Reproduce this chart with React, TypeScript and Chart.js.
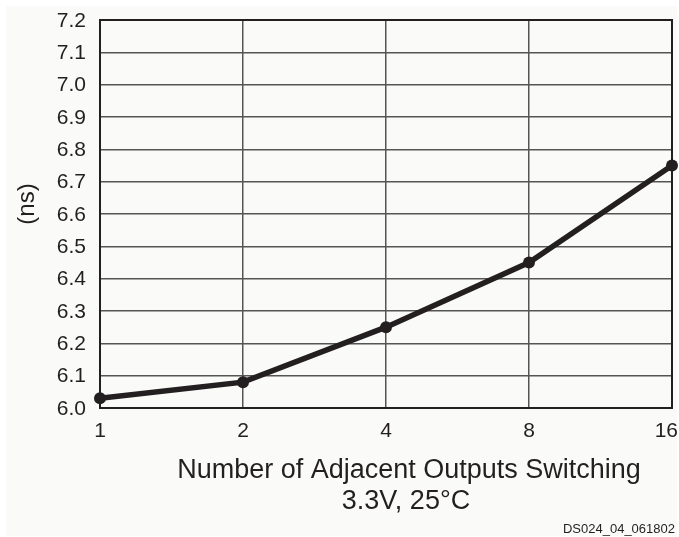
import React, { useEffect, useRef } from "react";
import { Chart, registerables } from "chart.js";

Chart.register(...registerables);

const categories = ["1", "2", "4", "8", "16"];
const delayNs = [6.03, 6.08, 6.25, 6.45, 6.75];
const yMin = 6.0;
const yMax = 7.2;
const yStep = 0.1;
const xTitleLines = ["Number of Adjacent Outputs Switching", "3.3V, 25\u00B0C"];
const yTitle = "(ns)";
const figureId = "DS024_04_061802";

const INK = "#231f20";
const FONT = 'Arial, "Liberation Sans", Helvetica, sans-serif';
const PAGE_W = 679;
const PAGE_H = 537;

const textPlugin = {
  id: "customText",
  beforeDatasetsDraw(chart: any) {
    const { ctx, chartArea } = chart;
    ctx.save();
    ctx.strokeStyle = INK;
    ctx.lineWidth = 2;
    ctx.strokeRect(chartArea.left, chartArea.top, chartArea.right - chartArea.left, chartArea.bottom - chartArea.top);
    ctx.restore();
  },
  afterDraw(chart: any) {
    const { ctx, chartArea } = chart;
    const xScale = chart.scales.x;
    const yScale = chart.scales.y;
    ctx.save();
    ctx.fillStyle = INK;
    ctx.font = `21px ${FONT}`;
    // y tick labels
    ctx.textAlign = "right";
    ctx.textBaseline = "middle";
    yScale.ticks.forEach((t: any) => {
      ctx.fillText(Number(t.value).toFixed(1), chartArea.left - 14, yScale.getPixelForValue(t.value) + 1);
    });
    // x tick labels (kept inside the visible page)
    ctx.textAlign = "center";
    categories.forEach((label, i) => {
      let x = xScale.getPixelForValue(i);
      const w = ctx.measureText(label).width;
      if (x + w / 2 > PAGE_W - 1) x = PAGE_W - 1 - w / 2;
      ctx.fillText(label, x, chartArea.bottom + 23);
    });
    ctx.textBaseline = "alphabetic";
    ctx.font = `27px ${FONT}`;
    ctx.fillText(xTitleLines[0], 409, 478);
    ctx.fillText(xTitleLines[1], 406, 509);
    ctx.font = `13px ${FONT}`;
    ctx.textAlign = "right";
    ctx.fillText(figureId, 675, 533);
    ctx.translate(27, 204);
    ctx.rotate(-Math.PI / 2);
    ctx.textAlign = "center";
    ctx.textBaseline = "middle";
    ctx.font = `24px ${FONT}`;
    ctx.fillText(yTitle, 0, 0);
    ctx.restore();
  },
};

export default function App() {
  const canvasRef = useRef<HTMLCanvasElement | null>(null);

  useEffect(() => {
    if (!canvasRef.current) return;
    const chart = new Chart(canvasRef.current, {
      type: "line",
      data: {
        labels: categories,
        datasets: [
          {
            data: delayNs,
            borderColor: INK,
            backgroundColor: INK,
            borderWidth: 5.5,
            pointRadius: 6,
            pointBackgroundColor: INK,
            pointBorderWidth: 0,
            tension: 0,
            clip: false as any,
          },
        ],
      },
      options: {
        animation: false,
        responsive: false,
        maintainAspectRatio: false,
        layout: { padding: { top: 20, right: 7, left: 0, bottom: 0 }, autoPadding: false } as any,
        plugins: { legend: { display: false }, tooltip: { enabled: false }, title: { display: false } },
        scales: {
          x: {
            type: "category",
            offset: false,
            grid: { color: "#555", lineWidth: 1.5, drawTicks: false },
            border: { color: INK, width: 2 },
            ticks: { display: false, font: { family: FONT, size: 21 } },
            afterFit(scale: any) {
              scale.height = 129;
            },
          },
          y: {
            min: yMin,
            max: yMax,
            grid: { color: "#555", lineWidth: 1.5, drawTicks: false },
            border: { color: INK, width: 2 },
            ticks: {
              display: false,
              stepSize: yStep,
              font: { family: FONT, size: 21 },
            },
            afterFit(scale: any) {
              scale.width = 100;
            },
          },
        },
      },
      plugins: [textPlugin],
    });
    return () => chart.destroy();
  }, []);

  return (
    <div style={{ position: "fixed", left: 0, top: 0, width: PAGE_W, height: PAGE_H, background: "#ffffff", overflow: "hidden" }}>
      <div style={{ position: "absolute", left: 6, top: 6, width: 671, height: 530, background: "#fafaf8" }} />
      <canvas ref={canvasRef} width={PAGE_W} height={PAGE_H} style={{ position: "absolute", left: 0, top: 0, width: PAGE_W, height: PAGE_H }} />
    </div>
  );
}
